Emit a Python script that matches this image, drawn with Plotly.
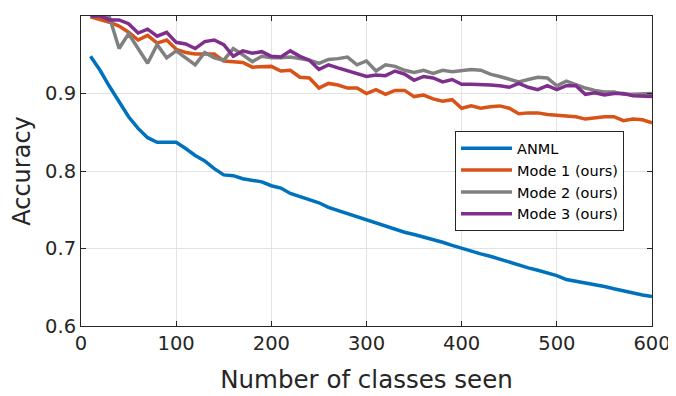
import plotly.graph_objects as go

classes = list(range(10, 601, 10))

anml = [0.948, 0.930, 0.909, 0.889, 0.870, 0.855, 0.843, 0.837, 0.837, 0.837,
        0.829, 0.820, 0.813, 0.803, 0.795, 0.794, 0.790, 0.788, 0.786, 0.781,
        0.778, 0.771, 0.767, 0.763, 0.759, 0.753, 0.749, 0.745, 0.740, 0.736,
        0.732, 0.728, 0.725, 0.721, 0.718, 0.715, 0.711, 0.708, 0.704, 0.700,
        0.697, 0.693, 0.690, 0.686, 0.682, 0.679, 0.675, 0.672, 0.669, 0.665,
        0.660, 0.658, 0.656, 0.653, 0.651, 0.648, 0.645, 0.643, 0.640, 0.638]

mode1 = [0.999, 0.996, 0.992, 0.987, 0.979, 0.969, 0.975, 0.965, 0.969, 0.957,
         0.953, 0.951, 0.951, 0.951, 0.942, 0.941, 0.940, 0.934, 0.935, 0.935,
         0.929, 0.930, 0.921, 0.920, 0.907, 0.913, 0.911, 0.907, 0.907, 0.900,
         0.905, 0.899, 0.904, 0.904, 0.896, 0.898, 0.893, 0.890, 0.892, 0.881,
         0.884, 0.881, 0.883, 0.884, 0.881, 0.874, 0.875, 0.875, 0.873, 0.872,
         0.872, 0.870, 0.867, 0.869, 0.870, 0.870, 0.865, 0.867, 0.866, 0.862]

mode2 = [1.000, 1.000, 0.998, 0.958, 0.977, 0.958, 0.939, 0.963, 0.946, 0.955,
         0.946, 0.937, 0.953, 0.946, 0.943, 0.958, 0.950, 0.941, 0.948, 0.946,
         0.946, 0.947, 0.945, 0.943, 0.939, 0.944, 0.945, 0.947, 0.937, 0.942,
         0.929, 0.937, 0.935, 0.930, 0.927, 0.930, 0.926, 0.930, 0.928, 0.929,
         0.931, 0.930, 0.925, 0.922, 0.918, 0.915, 0.918, 0.921, 0.920, 0.910,
         0.916, 0.911, 0.907, 0.904, 0.902, 0.902, 0.899, 0.899, 0.899, 0.900]

mode3 = [1.000, 1.000, 0.995, 0.995, 0.990, 0.978, 0.983, 0.974, 0.979, 0.966,
         0.964, 0.958, 0.967, 0.969, 0.963, 0.948, 0.955, 0.952, 0.954, 0.948,
         0.947, 0.955, 0.948, 0.943, 0.931, 0.937, 0.933, 0.929, 0.926, 0.922,
         0.924, 0.923, 0.929, 0.925, 0.917, 0.922, 0.920, 0.915, 0.918, 0.912,
         0.912, 0.912, 0.911, 0.910, 0.908, 0.913, 0.908, 0.905, 0.910, 0.905,
         0.910, 0.910, 0.899, 0.901, 0.898, 0.900, 0.900, 0.897, 0.896, 0.896]

series_names = ["ANML", "Mode 1 (ours)", "Mode 2 (ours)", "Mode 3 (ours)"]
series_values = [anml, mode1, mode2, mode3]
colors = ["#0072BD", "#D95319", "#808080", "#7E2F8E"]

x_ticks = [0, 100, 200, 300, 400, 500, 600]
x_ticklabels = ["0", "100", "200", "300", "400", "500", "600"]
y_ticks = [0.6, 0.7, 0.8, 0.9, 1.0]
y_ticklabels = ["0.6", "0.7", "0.8", "0.9", "1"]

FONT = "DejaVu Sans"
TXT = "#262626"

fig = go.Figure()
for name, vals, c in zip(series_names, series_values, colors):
    fig.add_trace(go.Scatter(x=classes, y=vals, mode="lines", name=name,
                             line=dict(color=c, width=3.5)))

axis_common = dict(showline=True, linecolor="#262626", linewidth=1, mirror="ticks",
                   ticks="inside", ticklen=5, tickcolor="#262626",
                   showgrid=True, gridcolor="#e3e3e3", gridwidth=1,
                   zeroline=False, tickfont=dict(family=FONT, size=19.5, color=TXT))

fig.update_xaxes(range=[0, 600], tickvals=x_ticks, ticktext=x_ticklabels,
                 title=dict(text="Number of classes seen", font=dict(family=FONT, size=24.5, color=TXT), standoff=16),
                 **axis_common)
fig.update_yaxes(range=[0.6, 1.0], tickvals=y_ticks, ticktext=y_ticklabels,
                 title=dict(text="Accuracy", font=dict(family=FONT, size=24, color=TXT), standoff=8),
                 **axis_common)

fig.update_layout(
    width=676, height=396,
    margin=dict(l=73, r=32, t=8, b=78, autoexpand=False),
    paper_bgcolor="white", plot_bgcolor="white",
    showlegend=True,
    legend=dict(x=0.655, y=0.628, xanchor="left", yanchor="top",
                bgcolor="white", bordercolor="#262626", borderwidth=1,
                font=dict(family=FONT, size=14.5, color="#000000"),
                tracegroupgap=0, itemwidth=51),
    font=dict(family=FONT, color=TXT),
)

fig.write_html("out.html")
